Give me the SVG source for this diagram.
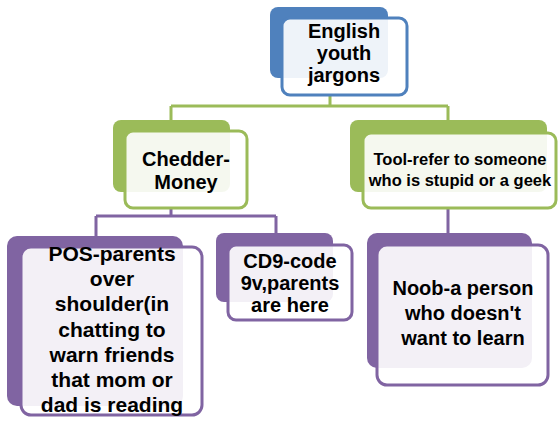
<svg xmlns="http://www.w3.org/2000/svg" width="558" height="421" viewBox="0 0 558 421">
<style>
.bk{stroke:none}
.fr{fill:#ffffff;fill-opacity:0.9;stroke-width:3}
.blue .bk{fill:#4f81bd}.blue .fr{stroke:#4f81bd}
.green .bk{fill:#9bbb59}.green .fr{stroke:#9bbb59}
.purple .bk{fill:#8064a2}.purple .fr{stroke:#8064a2}
text{font-family:"Liberation Sans",Arial,sans-serif;font-weight:bold;fill:#000;text-anchor:middle}
.con path{fill:none;stroke-width:3}
</style>
<rect width="558" height="421" fill="#ffffff"/>
<g class="con" id="connectors">
<path d="M330,95 V106 M171,106 H448 M171,106 V121 M448,106 V121" stroke="#9bbb59"/>
<path d="M171,208 V216 M96,216 H276 M96,216 V237 M276,216 V234 M448,208 V234" stroke="#8064a2"/>
</g>
<g id="root" class="blue">
<rect class="bk" x="270" y="7" width="118" height="71" rx="8"/>
<rect class="fr" x="282" y="18" width="125" height="77" rx="8"/>
<text font-size="20"><tspan x="344" y="38">English</tspan><tspan x="344" y="60">youth</tspan><tspan x="344" y="82">jargons</tspan></text>
</g>
<g id="chedder" class="green">
<rect class="bk" x="113" y="120" width="117" height="72" rx="8"/>
<rect class="fr" x="125" y="131" width="122" height="77" rx="8"/>
<text font-size="20"><tspan x="186" y="166">Chedder-</tspan><tspan x="186" y="189">Money</tspan></text>
</g>
<g id="tool" class="green">
<rect class="bk" x="350" y="120" width="197" height="72" rx="8"/>
<rect class="fr" x="363" y="133" width="193" height="75" rx="8"/>
<text font-size="16.5"><tspan x="460" y="165">Tool-refer to someone</tspan><tspan x="460" y="186">who is stupid or a geek</tspan></text>
</g>
<g id="pos" class="purple">
<rect class="bk" x="7" y="236" width="176" height="170" rx="10"/>
<rect class="fr" x="21" y="247" width="181" height="168" rx="10"/>
<text font-size="21"><tspan x="112" y="261">POS-parents</tspan><tspan x="112" y="286">over</tspan><tspan x="112" y="311">shoulder(in</tspan><tspan x="112" y="337">chatting to</tspan><tspan x="112" y="362">warn friends</tspan><tspan x="112" y="387">that mom or</tspan><tspan x="112" y="412">dad is reading</tspan></text>
</g>
<g id="cd9" class="purple">
<rect class="bk" x="216" y="233" width="117" height="69" rx="8"/>
<rect class="fr" x="228" y="245" width="124" height="75" rx="8"/>
<text font-size="20"><tspan x="290" y="268">CD9-code</tspan><tspan x="290" y="290">9v,parents</tspan><tspan x="290" y="312">are here</tspan></text>
</g>
<g id="noob" class="purple">
<rect class="bk" x="367" y="233" width="165" height="135" rx="10"/>
<rect class="fr" x="377" y="245" width="171" height="140" rx="10"/>
<text font-size="20"><tspan x="463" y="295">Noob-a person</tspan><tspan x="463" y="320">who doesn't</tspan><tspan x="463" y="345">want to learn</tspan></text>
</g>
</svg>
